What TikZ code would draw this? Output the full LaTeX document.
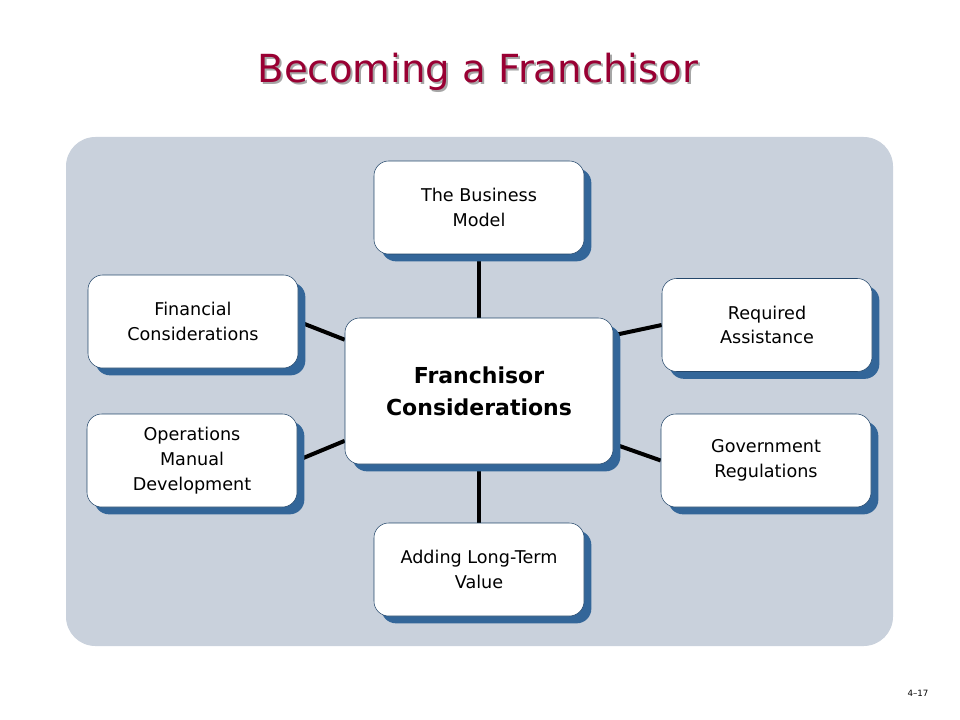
\documentclass[tikz,border=0pt]{standalone}
\usepackage{fontspec}
\setmainfont{DejaVu Sans}
\usetikzlibrary{positioning,shadows,backgrounds,calc}
\definecolor{titlered}{HTML}{990033}
\definecolor{panelgray}{HTML}{C9D1DC}
\definecolor{shadowblue}{HTML}{336699}
\tikzset{
        % Outer boxes
        topic/.style={rectangle, rounded corners=11pt, draw=shadowblue!70!black, thin, fill=white,
            align=center, minimum width=157.5pt, minimum height=69.75pt, font=\fontsize{13.2}{18.5}\selectfont,
            drop shadow={shadow xshift=5.5pt, shadow yshift=-5.5pt, opacity=1, fill=shadowblue}},
        % Central box
        hub/.style={topic, minimum width=201pt, minimum height=109.5pt, font=\bfseries\fontsize{16.5}{24}\selectfont},
        link/.style={line width=3pt, black}
}
\begin{document}
\begin{tikzpicture}[x=0.75pt, y=0.75pt]
    \useasboundingbox (0,0) rectangle (960,-720);
    \node[text=black!35, font=\fontsize{29}{32}\selectfont] at (480,-74) {Becoming a Franchisor};
    \node[text=titlered, font=\fontsize{29}{32}\selectfont] (title) at (478,-72) {Becoming a Franchisor};
    \node (hub) [hub] at (479,-391) {Franchisor\\Considerations};
    \node (model) [topic] at (479,-207.5) {The Business\\Model};
    \node (finance) [topic] at (193,-321.5) {Financial\\Considerations};
    \node (assist) [topic] at (767,-325) {Required\\Assistance};
    \node (manual) [topic] at (192,-460.5) {Operations\\Manual\\Development};
    \node (gov) [topic] at (766,-460.5) {Government\\Regulations};
    \node (value) [topic] at (479,-569.5) {Adding Long-Term\\Value};
    \node[font=\fontsize{6.5}{8}\selectfont] (page) at (918,-693) {4--17};
    \begin{pgfonlayer}{background}
        \fill[panelgray, rounded corners=22pt] (66,-137) rectangle (893,-646);
        \draw[link] (model) -- (hub);
        \draw[link] (hub) -- (value);
        \draw[link] ($(hub.north west)!0.15!(hub.south west)$) -- (finance.east);
        \draw[link] ($(hub.north west)!0.84!(hub.south west)$) -- (manual.east);
        \draw[link] ($(hub.north east)!0.12!(hub.south east)$) -- (assist.west);
        \draw[link] ($(hub.north east)!0.86!(hub.south east)$) -- (gov.west);
    \end{pgfonlayer}
\end{tikzpicture}
\end{document}
